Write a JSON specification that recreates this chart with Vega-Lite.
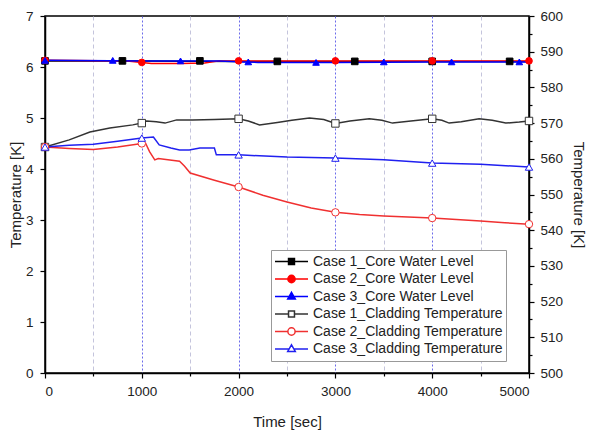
{
  "$schema": "https://vega.github.io/schema/vega-lite/v6.json",
  "width": 484,
  "height": 357,
  "autosize": {"type": "none"},
  "padding": {"left": 45, "top": 16, "right": 61, "bottom": 59},
  "background": "white",
  "config": {
    "font": "Liberation Sans",
    "view": {"stroke": "#000", "strokeWidth": 1.5},
    "axis": {
      "domainColor": "#000",
      "domainWidth": 1.5,
      "tickColor": "#000",
      "tickWidth": 1.2,
      "labelFont": "Liberation Sans",
      "labelFontSize": 13.5,
      "labelColor": "#222",
      "titleFont": "Liberation Sans",
      "titleFontSize": 15,
      "titleFontWeight": "normal",
      "titleColor": "#222"
    }
  },
  "datasets": {
    "wl": [
      {"series": "Case 1_Core Water Level", "t": 0, "value": 6.12},
      {"series": "Case 1_Core Water Level", "t": 1000, "value": 6.12},
      {"series": "Case 1_Core Water Level", "t": 2000, "value": 6.11},
      {"series": "Case 1_Core Water Level", "t": 3000, "value": 6.11},
      {"series": "Case 1_Core Water Level", "t": 4000, "value": 6.11},
      {"series": "Case 1_Core Water Level", "t": 5000, "value": 6.11},
      {"series": "Case 2_Core Water Level", "t": 0, "value": 6.13},
      {"series": "Case 2_Core Water Level", "t": 850, "value": 6.12},
      {"series": "Case 2_Core Water Level", "t": 950, "value": 6.1},
      {"series": "Case 2_Core Water Level", "t": 1100, "value": 6.07},
      {"series": "Case 2_Core Water Level", "t": 1400, "value": 6.07},
      {"series": "Case 2_Core Water Level", "t": 1650, "value": 6.08},
      {"series": "Case 2_Core Water Level", "t": 1800, "value": 6.12},
      {"series": "Case 2_Core Water Level", "t": 2000, "value": 6.12},
      {"series": "Case 2_Core Water Level", "t": 3000, "value": 6.12},
      {"series": "Case 2_Core Water Level", "t": 4000, "value": 6.12},
      {"series": "Case 2_Core Water Level", "t": 5000, "value": 6.12},
      {"series": "Case 3_Core Water Level", "t": 0, "value": 6.13},
      {"series": "Case 3_Core Water Level", "t": 1000, "value": 6.12},
      {"series": "Case 3_Core Water Level", "t": 1800, "value": 6.12},
      {"series": "Case 3_Core Water Level", "t": 2050, "value": 6.1},
      {"series": "Case 3_Core Water Level", "t": 2200, "value": 6.09},
      {"series": "Case 3_Core Water Level", "t": 3000, "value": 6.09},
      {"series": "Case 3_Core Water Level", "t": 4000, "value": 6.1},
      {"series": "Case 3_Core Water Level", "t": 5000, "value": 6.1}
    ],
    "wlm": [
      {"series": "Case 1_Core Water Level", "t": 0, "value": 6.12},
      {"series": "Case 1_Core Water Level", "t": 800, "value": 6.12},
      {"series": "Case 1_Core Water Level", "t": 1600, "value": 6.12},
      {"series": "Case 1_Core Water Level", "t": 2400, "value": 6.11},
      {"series": "Case 1_Core Water Level", "t": 3200, "value": 6.11},
      {"series": "Case 1_Core Water Level", "t": 4000, "value": 6.11},
      {"series": "Case 1_Core Water Level", "t": 4800, "value": 6.11},
      {"series": "Case 2_Core Water Level", "t": 0, "value": 6.13},
      {"series": "Case 2_Core Water Level", "t": 1000, "value": 6.09},
      {"series": "Case 2_Core Water Level", "t": 2000, "value": 6.12},
      {"series": "Case 2_Core Water Level", "t": 3000, "value": 6.12},
      {"series": "Case 2_Core Water Level", "t": 4000, "value": 6.12},
      {"series": "Case 2_Core Water Level", "t": 5000, "value": 6.12},
      {"series": "Case 3_Core Water Level", "t": 0, "value": 6.13},
      {"series": "Case 3_Core Water Level", "t": 700, "value": 6.13},
      {"series": "Case 3_Core Water Level", "t": 1400, "value": 6.12},
      {"series": "Case 3_Core Water Level", "t": 2100, "value": 6.1},
      {"series": "Case 3_Core Water Level", "t": 2800, "value": 6.09},
      {"series": "Case 3_Core Water Level", "t": 3500, "value": 6.1},
      {"series": "Case 3_Core Water Level", "t": 4200, "value": 6.1},
      {"series": "Case 3_Core Water Level", "t": 4900, "value": 6.1}
    ],
    "cl": [
      {"series": "Case 1_Cladding Temperature", "t": 0, "value": 563.3},
      {"series": "Case 1_Cladding Temperature", "t": 250, "value": 565.3},
      {"series": "Case 1_Cladding Temperature", "t": 464, "value": 567.5},
      {"series": "Case 1_Cladding Temperature", "t": 670, "value": 568.6},
      {"series": "Case 1_Cladding Temperature", "t": 907, "value": 569.5},
      {"series": "Case 1_Cladding Temperature", "t": 1000, "value": 570.0},
      {"series": "Case 1_Cladding Temperature", "t": 1050, "value": 570.6},
      {"series": "Case 1_Cladding Temperature", "t": 1150, "value": 570.4},
      {"series": "Case 1_Cladding Temperature", "t": 1240, "value": 570.0},
      {"series": "Case 1_Cladding Temperature", "t": 1360, "value": 570.9},
      {"series": "Case 1_Cladding Temperature", "t": 1525, "value": 570.9},
      {"series": "Case 1_Cladding Temperature", "t": 1750, "value": 571.0},
      {"series": "Case 1_Cladding Temperature", "t": 2000, "value": 571.2},
      {"series": "Case 1_Cladding Temperature", "t": 2100, "value": 570.6},
      {"series": "Case 1_Cladding Temperature", "t": 2216, "value": 569.5},
      {"series": "Case 1_Cladding Temperature", "t": 2400, "value": 570.2},
      {"series": "Case 1_Cladding Temperature", "t": 2550, "value": 570.8},
      {"series": "Case 1_Cladding Temperature", "t": 2732, "value": 571.4},
      {"series": "Case 1_Cladding Temperature", "t": 2880, "value": 571.0},
      {"series": "Case 1_Cladding Temperature", "t": 3000, "value": 569.9},
      {"series": "Case 1_Cladding Temperature", "t": 3150, "value": 570.6},
      {"series": "Case 1_Cladding Temperature", "t": 3350, "value": 571.2},
      {"series": "Case 1_Cladding Temperature", "t": 3480, "value": 570.8},
      {"series": "Case 1_Cladding Temperature", "t": 3590, "value": 570.0},
      {"series": "Case 1_Cladding Temperature", "t": 3780, "value": 570.6},
      {"series": "Case 1_Cladding Temperature", "t": 4000, "value": 571.2},
      {"series": "Case 1_Cladding Temperature", "t": 4100, "value": 570.8},
      {"series": "Case 1_Cladding Temperature", "t": 4175, "value": 570.0},
      {"series": "Case 1_Cladding Temperature", "t": 4300, "value": 570.4},
      {"series": "Case 1_Cladding Temperature", "t": 4485, "value": 571.2},
      {"series": "Case 1_Cladding Temperature", "t": 4620, "value": 570.8},
      {"series": "Case 1_Cladding Temperature", "t": 4760, "value": 570.0},
      {"series": "Case 1_Cladding Temperature", "t": 4900, "value": 570.3},
      {"series": "Case 1_Cladding Temperature", "t": 5000, "value": 570.6},
      {"series": "Case 2_Cladding Temperature", "t": 0, "value": 563.3},
      {"series": "Case 2_Cladding Temperature", "t": 250, "value": 562.9},
      {"series": "Case 2_Cladding Temperature", "t": 500, "value": 562.6},
      {"series": "Case 2_Cladding Temperature", "t": 750, "value": 563.3},
      {"series": "Case 2_Cladding Temperature", "t": 1000, "value": 564.3},
      {"series": "Case 2_Cladding Temperature", "t": 1040, "value": 564.3},
      {"series": "Case 2_Cladding Temperature", "t": 1080, "value": 562.0},
      {"series": "Case 2_Cladding Temperature", "t": 1134, "value": 559.7},
      {"series": "Case 2_Cladding Temperature", "t": 1170, "value": 560.1},
      {"series": "Case 2_Cladding Temperature", "t": 1390, "value": 559.3},
      {"series": "Case 2_Cladding Temperature", "t": 1440, "value": 558.0},
      {"series": "Case 2_Cladding Temperature", "t": 1500, "value": 556.0},
      {"series": "Case 2_Cladding Temperature", "t": 1750, "value": 554.0},
      {"series": "Case 2_Cladding Temperature", "t": 2000, "value": 552.1},
      {"series": "Case 2_Cladding Temperature", "t": 2250, "value": 549.8},
      {"series": "Case 2_Cladding Temperature", "t": 2500, "value": 547.9},
      {"series": "Case 2_Cladding Temperature", "t": 2750, "value": 546.2},
      {"series": "Case 2_Cladding Temperature", "t": 3000, "value": 545.0},
      {"series": "Case 2_Cladding Temperature", "t": 3250, "value": 544.4},
      {"series": "Case 2_Cladding Temperature", "t": 3500, "value": 544.0},
      {"series": "Case 2_Cladding Temperature", "t": 3750, "value": 543.7},
      {"series": "Case 2_Cladding Temperature", "t": 4000, "value": 543.4},
      {"series": "Case 2_Cladding Temperature", "t": 4250, "value": 543.0},
      {"series": "Case 2_Cladding Temperature", "t": 4500, "value": 542.6},
      {"series": "Case 2_Cladding Temperature", "t": 4750, "value": 542.1},
      {"series": "Case 2_Cladding Temperature", "t": 5000, "value": 541.7},
      {"series": "Case 3_Cladding Temperature", "t": 0, "value": 563.3},
      {"series": "Case 3_Cladding Temperature", "t": 250, "value": 563.8},
      {"series": "Case 3_Cladding Temperature", "t": 500, "value": 564.1},
      {"series": "Case 3_Cladding Temperature", "t": 750, "value": 564.9},
      {"series": "Case 3_Cladding Temperature", "t": 1000, "value": 565.8},
      {"series": "Case 3_Cladding Temperature", "t": 1120, "value": 566.1},
      {"series": "Case 3_Cladding Temperature", "t": 1180, "value": 563.9},
      {"series": "Case 3_Cladding Temperature", "t": 1300, "value": 563.0},
      {"series": "Case 3_Cladding Temperature", "t": 1390, "value": 562.5},
      {"series": "Case 3_Cladding Temperature", "t": 1490, "value": 562.5},
      {"series": "Case 3_Cladding Temperature", "t": 1600, "value": 563.0},
      {"series": "Case 3_Cladding Temperature", "t": 1750, "value": 563.0},
      {"series": "Case 3_Cladding Temperature", "t": 1770, "value": 561.1},
      {"series": "Case 3_Cladding Temperature", "t": 2000, "value": 561.1},
      {"series": "Case 3_Cladding Temperature", "t": 2500, "value": 560.5},
      {"series": "Case 3_Cladding Temperature", "t": 3000, "value": 560.2},
      {"series": "Case 3_Cladding Temperature", "t": 3500, "value": 559.7},
      {"series": "Case 3_Cladding Temperature", "t": 4000, "value": 558.8},
      {"series": "Case 3_Cladding Temperature", "t": 4500, "value": 558.5},
      {"series": "Case 3_Cladding Temperature", "t": 5000, "value": 557.7}
    ]
  },
  "layer": [
    {
      "encoding": {
        "x": {
          "field": "t", "type": "quantitative",
          "scale": {"domain": [0, 5000], "nice": false, "zero": false},
          "axis": {
            "title": "Time [sec]",
            "values": [0, 500, 1000, 1500, 2000, 2500, 3000, 3500, 4000, 4500, 5000],
            "format": "d",
            "labelExpr": "datum.value % 1000 === 0 ? datum.label : ''",
            "grid": true,
            "gridColor": {"condition": {"test": "datum.value % 1000 === 0", "value": "#6b6bea"}, "value": "#c4c4dc"},
            "gridDash": {"condition": {"test": "datum.value % 1000 === 0", "value": [2, 2]}, "value": [4, 3]},
            "gridWidth": 1,
            "tickSize": {"condition": {"test": "datum.value % 1000 === 0", "value": 5}, "value": 3},
            "labelPadding": 6,
            "titlePadding": 17
          }
        },
        "y": {
          "field": "value", "type": "quantitative",
          "scale": {"domain": [0, 7], "nice": false, "zero": false},
          "axis": {
            "orient": "left",
            "title": "Temperature [K]",
            "grid": false,
            "format": "d",
            "values": [0, 0.5, 1, 1.5, 2, 2.5, 3, 3.5, 4, 4.5, 5, 5.5, 6, 6.5, 7],
            "labelExpr": "datum.value % 1 === 0 ? format(datum.value, 'd') : ''",
            "tickSize": {"condition": {"test": "datum.value % 1 === 0", "value": 5}, "value": 3},
            "labelPadding": 7,
            "titlePadding": 2
          }
        }
      },
      "layer": [
        {
          "data": {"name": "wl"},
          "mark": {"type": "line", "strokeWidth": 1.5},
          "encoding": {
            "stroke": {
              "field": "series", "type": "nominal", "legend": null,
              "scale": {
                "domain": ["Case 1_Core Water Level", "Case 2_Core Water Level", "Case 3_Core Water Level"],
                "range": ["#000000", "#ff0000", "#0000ff"]
              }
            }
          }
        },
        {
          "data": {"name": "wlm"},
          "mark": {"type": "point", "strokeWidth": 1, "opacity": 1},
          "encoding": {
            "stroke": {
              "field": "series", "type": "nominal", "legend": null,
              "scale": {
                "domain": ["Case 1_Core Water Level", "Case 2_Core Water Level", "Case 3_Core Water Level"],
                "range": ["#000000", "#ff0000", "#0000ff"]
              }
            },
            "fill": {
              "field": "series", "type": "nominal", "legend": null,
              "scale": {
                "domain": ["Case 1_Core Water Level", "Case 2_Core Water Level", "Case 3_Core Water Level"],
                "range": ["#000000", "#ff0000", "#0000ff"]
              }
            },
            "shape": {
              "field": "series", "type": "nominal", "legend": null,
              "scale": {
                "domain": ["Case 1_Core Water Level", "Case 2_Core Water Level", "Case 3_Core Water Level"],
                "range": ["square", "circle", "triangle-up"]
              }
            },
            "size": {"value": 44}
          }
        }
      ]
    },
    {
      "encoding": {
        "x": {"field": "t", "type": "quantitative", "scale": {"domain": [0, 5000], "nice": false, "zero": false}},
        "y": {
          "field": "value", "type": "quantitative",
          "scale": {"domain": [500, 600], "nice": false, "zero": false},
          "axis": {
            "orient": "right",
            "title": "Temperature [K]",
            "grid": false,
            "values": [500, 505, 510, 515, 520, 525, 530, 535, 540, 545, 550, 555, 560, 565, 570, 575, 580, 585, 590, 595, 600],
            "labelExpr": "datum.value % 10 === 0 ? datum.label : ''",
            "tickSize": {"condition": {"test": "datum.value % 10 === 0", "value": 5}, "value": 3},
            "labelPadding": 6,
            "titlePadding": 8
          }
        }
      },
      "layer": [
        {
          "data": {"name": "cl"},
          "mark": {"type": "line", "strokeWidth": 1.5},
          "encoding": {
            "stroke": {
              "field": "series", "type": "nominal", "legend": null,
              "scale": {
                "domain": ["Case 1_Cladding Temperature", "Case 2_Cladding Temperature", "Case 3_Cladding Temperature"],
                "range": ["#333333", "#f03030", "#2020f0"]
              }
            }
          }
        },
        {
          "data": {"name": "cl"},
          "transform": [{"filter": "datum.t % 1000 === 0"}],
          "mark": {"type": "point", "strokeWidth": 1, "opacity": 1},
          "encoding": {
            "stroke": {
              "field": "series", "type": "nominal", "legend": null,
              "scale": {
                "domain": ["Case 1_Cladding Temperature", "Case 2_Cladding Temperature", "Case 3_Cladding Temperature"],
                "range": ["#555555", "#f06060", "#5050f0"]
              }
            },
            "fill": {
              "field": "series", "type": "nominal", "legend": null,
              "scale": {
                "domain": ["Case 1_Cladding Temperature", "Case 2_Cladding Temperature", "Case 3_Cladding Temperature"],
                "range": ["#ffffff", "#ffffff", "#ffffff"]
              }
            },
            "shape": {
              "field": "series", "type": "nominal", "legend": null,
              "scale": {
                "domain": ["Case 1_Cladding Temperature", "Case 2_Cladding Temperature", "Case 3_Cladding Temperature"],
                "range": ["square", "circle", "triangle-up"]
              }
            },
            "size": {"value": 55}
          }
        }
      ]
    },
    {
      "data": {"values": []},
      "mark": {"type": "point", "opacity": 1},
      "encoding": {
        "stroke": {
          "field": "series", "type": "nominal",
          "scale": {
            "domain": ["Case 1_Core Water Level", "Case 2_Core Water Level", "Case 3_Core Water Level", "Case 1_Cladding Temperature", "Case 2_Cladding Temperature", "Case 3_Cladding Temperature"],
            "range": ["#000000", "#ff0000", "#0000ff", "#333333", "#f03030", "#2020f0"]
          },
          "legend": {
            "orient": "none",
            "legendX": 226,
            "legendY": 234,
            "title": null,
            "symbolSize": 1089,
            "symbolStrokeWidth": 1.5,
            "clipHeight": 17,
            "rowPadding": 0.5,
            "padding": 3,
            "labelOffset": 4,
            "symbolOffset": 0,
            "labelFont": "Liberation Sans",
            "labelFontSize": 14,
            "labelColor": "#222",
            "labelLimit": 400,
            "strokeColor": "#999999",
            "fillColor": "#ffffff"
          }
        },
        "fill": {
          "field": "series", "type": "nominal",
          "scale": {
            "domain": ["Case 1_Core Water Level", "Case 2_Core Water Level", "Case 3_Core Water Level", "Case 1_Cladding Temperature", "Case 2_Cladding Temperature", "Case 3_Cladding Temperature"],
            "range": ["#000000", "#ff0000", "#0000ff", "#ffffff", "#ffffff", "#ffffff"]
          }
        },
        "shape": {
          "field": "series", "type": "nominal",
          "scale": {
            "domain": ["Case 1_Core Water Level", "Case 2_Core Water Level", "Case 3_Core Water Level", "Case 1_Cladding Temperature", "Case 2_Cladding Temperature", "Case 3_Cladding Temperature"],
            "range": [
              "M-1,0H-0.18M0.18,0H1M-0.18,-0.18H0.18V0.18H-0.18Z",
              "M-1,0H-0.22M0.22,0H1M-0.22,0A0.22,0.22,0,1,1,0.22,0A0.22,0.22,0,1,1,-0.22,0Z",
              "M-1,0H-0.15M0.15,0H1M0,-0.25L0.23,0.15H-0.23Z",
              "M-1,0H-0.18M0.18,0H1M-0.18,-0.18H0.18V0.18H-0.18Z",
              "M-1,0H-0.22M0.22,0H1M-0.22,0A0.22,0.22,0,1,1,0.22,0A0.22,0.22,0,1,1,-0.22,0Z",
              "M-1,0H-0.15M0.15,0H1M0,-0.25L0.23,0.15H-0.23Z"
            ]
          }
        }
      }
    }
  ],
  "resolve": {"scale": {"y": "independent", "stroke": "independent", "fill": "independent", "shape": "independent"}}
}
